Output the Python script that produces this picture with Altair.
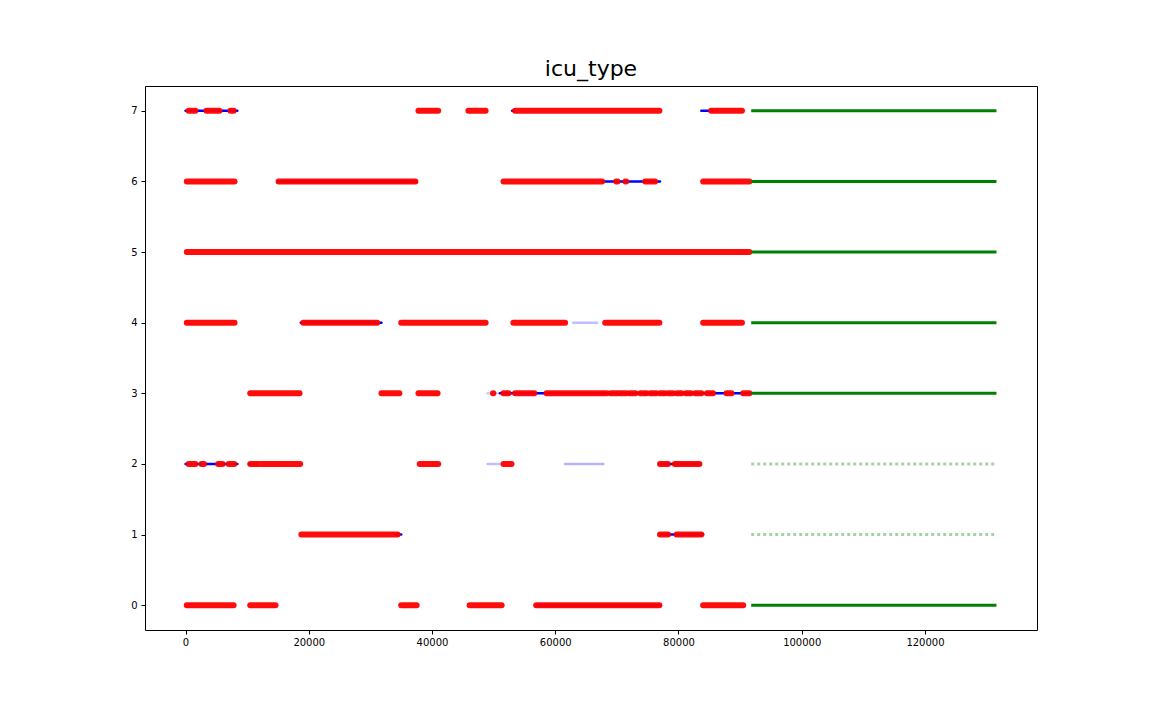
import altair as alt
import pandas as pd

# ---- data (x = row index, y = icu_type) ----
RED_ROW = [7, 7, 7, 7, 7, 7, 7,
           6, 6, 6, 6, 6, 6, 6,
           5,
           4, 4, 4, 4, 4, 4,
           3, 3, 3, 3, 3, 3, 3, 3, 3, 3, 3, 3, 3, 3, 3, 3, 3, 3, 3, 3,
           2, 2, 2, 2, 2, 2, 2, 2, 2,
           1, 1, 1,
           0, 0, 0, 0, 0, 0]
RED_START = [500, 3400, 7300, 37800, 45900, 53500, 85300,
             200, 15100, 51600, 69900, 71400, 74600, 84000,
             200,
             200, 19100, 35000, 53200, 68100, 84000,
             10500, 31800, 37800, 49900, 51600, 53500, 58600, 69000, 70500, 72000, 73800, 75400, 77000,
             78300, 79700, 81200, 82700, 84600, 87800, 90500,
             500, 2600, 5300, 7000, 10500, 38000, 51600, 77000, 79400,
             18800, 77000, 79700,
             200, 10500, 35000, 46100, 56900, 84000]
RED_END = [1600, 5500, 7800, 41000, 48700, 76900, 90300,
           7950, 37300, 67600, 70100, 71500, 76200, 91500,
           91500,
           7950, 31100, 48700, 61600, 76900, 90300,
           18500, 34700, 40900, 49950, 52400, 56600, 68400, 70100, 71500, 73000, 74800, 76400, 77800,
           79100, 80500, 82000, 83700, 85600, 88600, 91500,
           1600, 3000, 6000, 7900, 18600, 41000, 52900, 78300, 83400,
           34400, 78300, 83700,
           7800, 14600, 37500, 51300, 76900, 90500]

BLUE_ROW = [7, 7, 7, 6, 6, 4, 4, 3, 3, 2, 2, 2, 2, 2, 1, 1, 0]
BLUE_START = [0, 53000, 83700, 15000, 67600, 18700, 62900, 49000, 51000,
              0, 10300, 49000, 61600, 77000, 34000, 77000, 57000]
BLUE_END = [8400, 53300, 85500, 37500, 77000, 31800, 66800, 50500, 91700,
            8400, 11500, 51100, 67800, 83400, 35000, 84000, 77000]
BLUE_ALPHA = [1, 1, 1, 1, 1, 1, 0.25, 0.2, 1, 1, 1, 0.25, 0.3, 1, 1, 1, 1]

GREEN_ROW = [7, 6, 5, 4, 3, 0]
GREEN_FAINT_ROW = [2, 1]
TEST_START = 91800
TEST_END = 131600

X_TICKS = [0, 20000, 40000, 60000, 80000, 100000, 120000]
Y_TICKS = [0, 1, 2, 3, 4, 5, 6, 7]

red_df = pd.DataFrame({"row": RED_ROW, "start": RED_START, "end": RED_END})
blue_df = pd.DataFrame({"row": BLUE_ROW, "start": BLUE_START, "end": BLUE_END, "alpha": BLUE_ALPHA})
green_df = pd.DataFrame({"row": GREEN_ROW, "start": TEST_START, "end": TEST_END})
green_faint_df = pd.DataFrame({"row": GREEN_FAINT_ROW, "start": TEST_START, "end": TEST_END})

xscale = alt.Scale(domain=[-6580, 138180], nice=False, zero=False)
yscale = alt.Scale(domain=[-0.35, 7.35], nice=False, zero=False)

xaxis = alt.Axis(values=X_TICKS, format="d", title=None, grid=False, domain=False,
                 labelFontSize=10, labelColor="black", tickColor="black", tickSize=4,
                 labelFont="DejaVu Sans", labelPadding=3)
yaxis = alt.Axis(values=Y_TICKS, format="d", title=None, grid=False, domain=False,
                 labelFontSize=10, labelColor="black", tickColor="black", tickSize=4,
                 labelFont="DejaVu Sans", labelPadding=4)


def enc(chart):
    return chart.encode(
        x=alt.X("start:Q", scale=xscale, axis=xaxis),
        x2="end:Q",
        y=alt.Y("row:Q", scale=yscale, axis=yaxis),
    )


blue = enc(alt.Chart(blue_df).mark_rule(color="#0000ff", strokeWidth=2.5, strokeCap="round")
           ).encode(opacity=alt.Opacity("alpha:Q", scale=None, legend=None))
red = enc(alt.Chart(red_df).mark_rule(color="#ff0000", strokeWidth=6, strokeCap="round", opacity=0.95))
green = enc(alt.Chart(green_df).mark_rule(color="#008000", strokeWidth=3))
green_faint = enc(alt.Chart(green_faint_df).mark_rule(color="#008000", strokeWidth=3,
                                                      opacity=0.35, strokeDash=[3, 3]))

chart = alt.layer(blue, red, green, green_faint).properties(
    width=892,
    height=544,
    title=alt.TitleParams("icu_type", fontSize=22, fontWeight="normal", font="DejaVu Sans",
                          anchor="middle", offset=5, color="black"),
    autosize=alt.AutoSizeParams(type="none"),
    padding={"left": 137, "top": 78, "right": 107, "bottom": 82},
).configure_view(stroke="black", strokeWidth=1)

chart.save("out.html", embed_options={"renderer": "svg", "actions": False})
